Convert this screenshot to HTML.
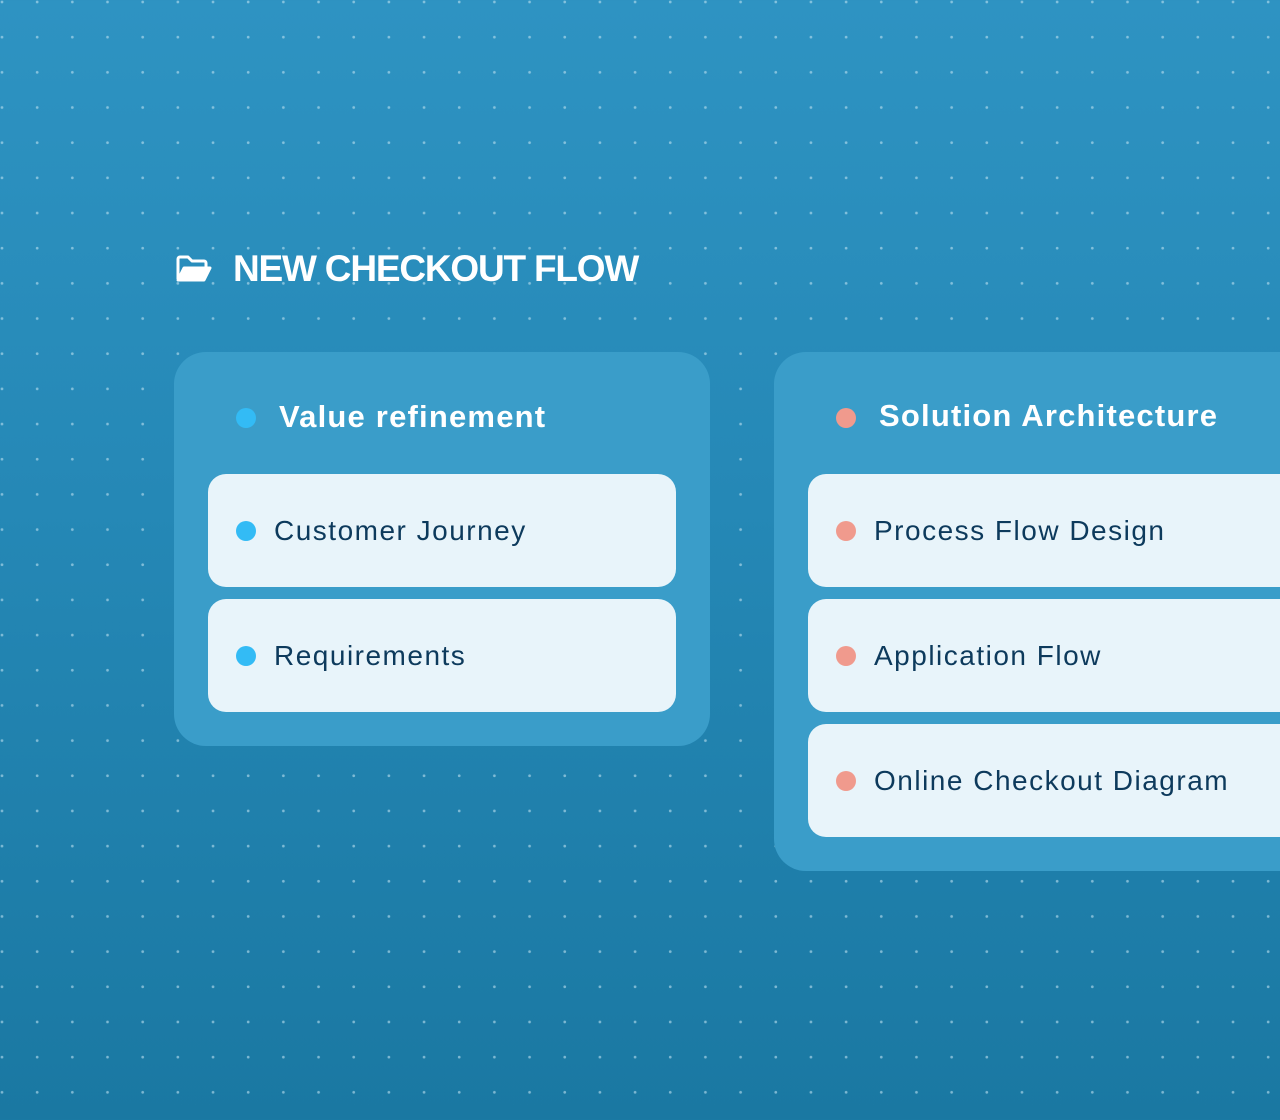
<!DOCTYPE html>
<html><head><style>
*{margin:0;padding:0;box-sizing:border-box}
body{width:1280px;height:1120px;overflow:hidden;position:relative;font-family:"Liberation Sans",sans-serif;
background:linear-gradient(180deg,#2e93c2 0%,#2588b6 45%,#1a78a2 100%);}
.dots{position:absolute;inset:0;background-image:radial-gradient(circle,rgba(190,225,240,.6) 1.2px,transparent 1.6px);background-size:35.18px 35.18px;background-position:-15.6px -15.6px}
.title{position:absolute;left:233px;top:248px;font-size:37px;font-weight:bold;color:#fff;letter-spacing:-1.2px}
.card{position:absolute;background:#3a9dc9;border-radius:32px}
.head{position:absolute;font-size:31px;font-weight:bold;color:#fff;letter-spacing:1.2px}
.item{position:absolute;background:#e8f4fa;border-radius:18px;height:113px;font-size:28px;color:#0d3a5c;padding-left:66px;line-height:113px;letter-spacing:1.5px}
.dot{position:absolute;width:20px;height:20px;border-radius:50%}
.b{background:#33bbf5}.r{background:#f09a8d}
</style></head><body>
<div class="dots"></div>
<svg style="position:absolute;left:176px;top:255px" width="36" height="28" viewBox="0 0 36 28"><path d="M2 24V4a2 2 0 0 1 2-2h8l4 4h12a2 2 0 0 1 2 2v4" fill="none" stroke="#fff" stroke-width="3" stroke-linejoin="round"/><path d="M2 25L8 13h26l-6 12z" fill="#fff" stroke="#fff" stroke-width="3" stroke-linejoin="round"/></svg>
<div class="title">NEW CHECKOUT FLOW</div>
<div class="card" style="left:174px;top:352px;width:536px;height:394px"></div>
<div class="dot b" style="left:236px;top:408px"></div>
<div class="head" style="left:279px;top:399px">Value refinement</div>
<div class="item" style="left:208px;top:474px;width:468px">Customer Journey</div>
<div class="dot b" style="left:236px;top:521px"></div>
<div class="item" style="left:208px;top:599px;width:468px">Requirements</div>
<div class="dot b" style="left:236px;top:646px"></div>
<div class="card" style="left:774px;top:352px;width:560px;height:519px"></div>
<div class="dot r" style="left:836px;top:408px"></div>
<div class="head" style="left:879px;top:398px">Solution Architecture</div>
<div class="item" style="left:808px;top:474px;width:520px">Process Flow Design</div>
<div class="dot r" style="left:836px;top:521px"></div>
<div class="item" style="left:808px;top:599px;width:520px">Application Flow</div>
<div class="dot r" style="left:836px;top:646px"></div>
<div class="item" style="left:808px;top:724px;width:520px">Online Checkout Diagram</div>
<div class="dot r" style="left:836px;top:771px"></div>
</body></html>
